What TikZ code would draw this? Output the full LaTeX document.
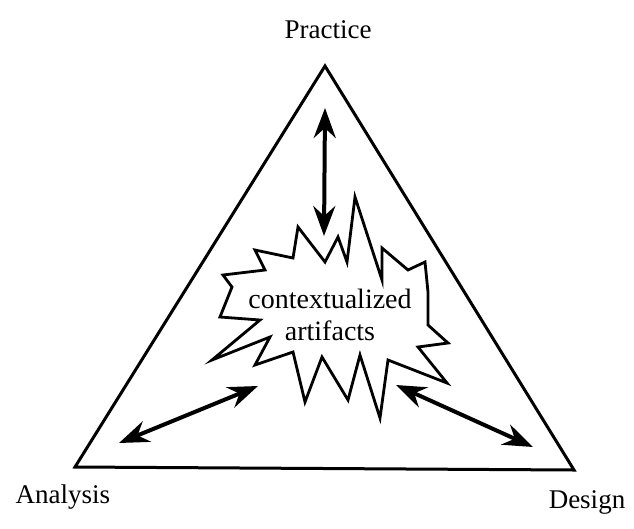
\documentclass[tikz,border=0pt]{standalone}
\usepackage{fontspec}
\setmainfont{Liberation Serif}
\usetikzlibrary{arrows.meta}
\begin{document}
\begin{tikzpicture}[x=1pt,y=-1pt,
  edge/.style={line width=3pt,line join=miter},
  burst/.style={line width=2.8pt,line join=miter},
  twoway/.style={line width=4pt,{Stealth[length=30pt,width=22pt,inset=10pt]}-{Stealth[length=30pt,width=22pt,inset=10pt]}},
  lab/.style={font=\fontsize{27}{30}\selectfont,inner sep=0pt}]
\useasboundingbox (0,0) rectangle (634,528);
% triangle
\coordinate (P) at (325,66);
\coordinate (A) at (75,467);
\coordinate (D) at (574,470);
\draw[edge] (P) -- (A) -- (D) -- cycle;
% labels
\node[lab] (lp) at (328,30) {Practice};
\node[lab] (la) at (63,497) {Analysis};
\node[lab] (ld) at (587,502) {Design};
% starburst
\draw[burst] (223,275) -- (265,270) -- (255,250) -- (293,258) -- (298,227) -- (325,262)
  -- (338,237) -- (347,262) -- (355,197) -- (382,280) -- (382,248) -- (408,270)
  -- (425,262) -- (428,292) -- (428,325) -- (448,343) -- (418,347) -- (447,383)
  -- (388,360) -- (380,418) -- (360,355) -- (348,400) -- (322,357) -- (305,402)
  -- (293,352) -- (255,365) -- (270,337) -- (212,360) -- (260,320) -- (220,317)
  -- (232,287) -- cycle;
\node[lab,align=center,font=\fontsize{28}{32}\selectfont] (ca) at (330,315) {contextualized\\artifacts};
% arrows
\coordinate (v1) at (325,108);
\coordinate (v2) at (324,236);
\coordinate (l1) at (119,443);
\coordinate (l2) at (258,386);
\coordinate (r1) at (396,385);
\coordinate (r2) at (533,447);
\draw[twoway] (v1) -- (v2);
\draw[twoway] (l1) -- (l2);
\draw[twoway] (r1) -- (r2);
\end{tikzpicture}
\end{document}
